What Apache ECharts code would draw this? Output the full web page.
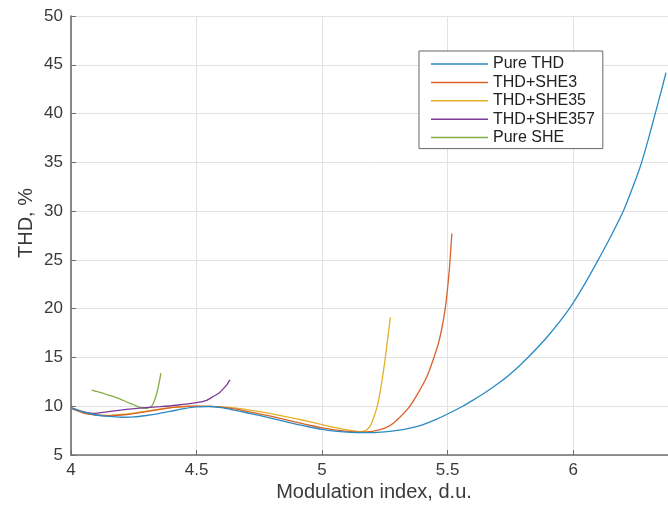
<!DOCTYPE html>
<html>
<head>
<meta charset="utf-8">
<script src="https://cdn.jsdelivr.net/npm/echarts@6/dist/echarts.min.js"></script>
<style>
html,body{margin:0;padding:0;background:#fff;}
#chart{width:668px;height:508px;}
</style>
</head>
<body>
<div id="chart"></div>
<script>
// Series names
const seriesNames = ['Pure THD', 'THD+SHE3', 'THD+SHE35', 'THD+SHE357', 'Pure SHE'];

// Pure THD
const pureThdX = [4.00,4.05,4.10,4.15,4.20,4.25,4.30,4.35,4.40,4.45,4.50,4.55,4.60,4.65,4.70,4.75,4.80,4.85,4.90,4.95,5.00,5.05,5.10,5.15,5.20,5.25,5.30,5.35,5.40,5.45,5.50,5.56,5.60,5.65,5.70,5.75,5.82,5.90,5.985,6.05,6.10,6.15,6.20,6.25,6.273,6.30,6.327,6.35,6.37];
const pureThdY = [9.8,9.4,9.1,8.95,8.87,8.9,9.05,9.25,9.5,9.75,9.93,9.97,9.85,9.6,9.33,9.05,8.75,8.45,8.15,7.87,7.62,7.45,7.35,7.3,7.3,7.38,7.52,7.75,8.1,8.6,9.2,10.0,10.6,11.4,12.3,13.3,15.0,17.2,20.0,22.7,25.0,27.4,30.0,33.3,35.0,37.4,40.0,42.2,44.2];

// THD+SHE3
const she3X = [4.00,4.05,4.10,4.15,4.20,4.25,4.30,4.35,4.40,4.45,4.50,4.55,4.60,4.65,4.70,4.75,4.80,4.85,4.90,4.95,5.00,5.05,5.10,5.15,5.20,5.25,5.284,5.35,5.417,5.463,5.49,5.507,5.517];
const she3Y = [9.8,9.3,9.1,9.03,9.1,9.25,9.45,9.65,9.85,9.95,10.0,9.98,9.9,9.72,9.48,9.22,8.95,8.65,8.35,8.05,7.78,7.57,7.42,7.34,7.42,7.75,8.25,10.0,13.0,16.4,19.9,24.0,27.7];

// THD+SHE35
const she35X = [4.00,4.05,4.10,4.15,4.20,4.25,4.30,4.35,4.40,4.45,4.50,4.55,4.60,4.65,4.70,4.75,4.80,4.85,4.90,4.95,5.00,5.05,5.10,5.15,5.17,5.19,5.205,5.22,5.235,5.25,5.262,5.272];
const she35Y = [9.8,9.35,9.12,9.05,9.15,9.3,9.5,9.7,9.88,9.97,10.0,9.98,9.93,9.82,9.65,9.45,9.22,8.97,8.7,8.42,8.12,7.82,7.57,7.4,7.45,7.9,8.8,10.0,12.0,14.6,17.0,19.1];

// THD+SHE357
const she357X = [4.00,4.04,4.089,4.15,4.22,4.30,4.355,4.42,4.50,4.54,4.567,4.59,4.607,4.622,4.633];
const she357Y = [9.85,9.5,9.27,9.45,9.67,9.85,9.95,10.1,10.36,10.6,11.0,11.35,11.8,12.25,12.7];

// Pure SHE
const pureSheX = [4.082,4.12,4.155,4.19,4.22,4.25,4.275,4.30,4.318,4.328,4.338,4.348,4.358];
const pureSheY = [11.66,11.4,11.1,10.8,10.46,10.15,9.88,9.78,9.95,10.3,11.0,12.0,13.4];

// Axis ticks
const xTicks = [4, 4.5, 5, 5.5, 6];
const yTicks = [5, 10, 15, 20, 25, 30, 35, 40, 45, 50];

const colors = ['#2a8ac4', '#d9622b', '#e3b126', '#7b3a96', '#85ad45'];
const xs = [pureThdX, she3X, she35X, she357X, pureSheX];
const ys = [pureThdY, she3Y, she35Y, she357Y, pureSheY];

const zip = (a, b) => a.map((v, i) => [v, b[i]]);
const FONT = '"Liberation Sans", Arial, Helvetica, sans-serif';

const chart = echarts.init(document.getElementById('chart'), null, {renderer: 'canvas'});
chart.setOption({
  animation: false,
  backgroundColor: '#fff',
  color: colors,
  grid: {left: 71, right: 0, top: 16, bottom: 53, containLabel: false},
  xAxis: {
    type: 'value',
    min: xTicks[0],
    max: 6.378,
    interval: 0.5,
    axisLine: {show: true, onZero: false, lineStyle: {color: '#6f6f6f', width: 1.6}},
    axisTick: {show: true, inside: true, length: 5, lineStyle: {color: '#6f6f6f', width: 1}},
    axisLabel: {showMaxLabel: false, color: '#3a3a3a', fontSize: 17, fontFamily: FONT, margin: 7},
    splitLine: {show: true, lineStyle: {color: '#e2e2e2', width: 1}}
  },
  yAxis: {
    type: 'value',
    min: yTicks[0],
    max: yTicks[yTicks.length - 1],
    interval: 5,
    axisLine: {show: true, onZero: false, lineStyle: {color: '#6f6f6f', width: 1.6}},
    axisTick: {show: true, inside: true, length: 5, lineStyle: {color: '#6f6f6f', width: 1}},
    axisLabel: {color: '#3a3a3a', fontSize: 17, fontFamily: FONT, margin: 8},
    splitLine: {show: true, lineStyle: {color: '#e2e2e2', width: 1}}
  },
  legend: {
    orient: 'vertical',
    left: 419,
    top: 51,
    icon: 'rect',
    itemWidth: 57,
    itemHeight: 1.5,
    itemGap: 0.4,
    padding: [4, 8, 2, 12],
    backgroundColor: '#fff',
    borderColor: '#666',
    borderWidth: 1,
    textStyle: {fontSize: 16, fontFamily: FONT, color: '#222', lineHeight: 18},
    data: seriesNames
  },
  graphic: [
    {type: 'text', x: 374, y: 492, style: {text: 'Modulation index, d.u.', font: '20px ' + FONT, fill: '#3a3a3a', textAlign: 'center', textVerticalAlign: 'middle'}},
    {type: 'text', x: 26, y: 223, rotation: Math.PI / 2, style: {text: 'THD, %', font: '20px ' + FONT, fill: '#3a3a3a', textAlign: 'center', textVerticalAlign: 'middle'}}
  ],
  series: seriesNames.map((n, i) => ({
    name: n,
    type: 'line',
    data: zip(xs[i], ys[i]),
    symbol: 'none',
    smooth: 0.2,
    lineStyle: {width: 1.3, color: colors[i]},
    itemStyle: {color: colors[i]},
    z: 5 - i
  }))
});
</script>
</body>
</html>
